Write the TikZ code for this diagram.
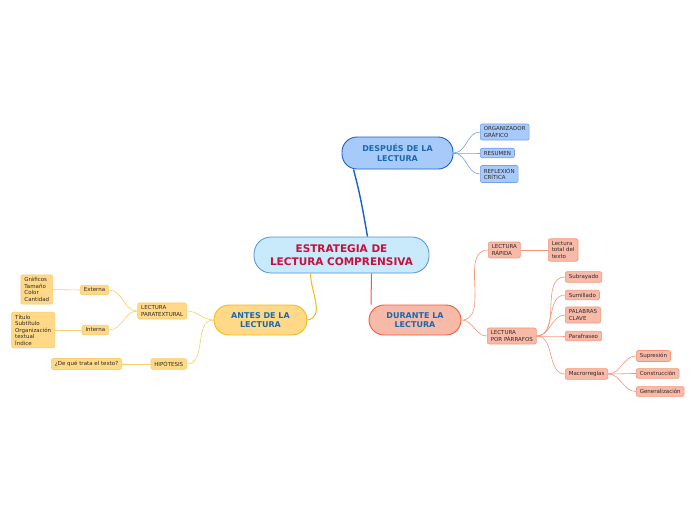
\documentclass[tikz,border=0pt]{standalone}
\usepackage{fontspec}
\setmainfont{DejaVu Sans}

\definecolor{rootfill}{RGB}{200,234,251}
\definecolor{rootline}{RGB}{80,145,215}
\definecolor{roottext}{RGB}{200,16,60}
\definecolor{titleblue}{RGB}{25,105,175}
\definecolor{kidtext}{RGB}{45,40,40}
\definecolor{bluefill}{RGB}{168,202,250}
\definecolor{blueline}{RGB}{25,95,200}
\definecolor{bluekid}{RGB}{115,160,240}
\definecolor{redfill}{RGB}{248,186,168}
\definecolor{redline}{RGB}{240,90,55}
\definecolor{redkid}{RGB}{245,150,120}
\definecolor{yelfill}{RGB}{255,217,135}
\definecolor{yelline}{RGB}{245,185,20}
\definecolor{yelkid}{RGB}{250,205,110}

\tikzset{
  topic/.style={draw, line width=0.9pt, rounded corners=15pt, align=center,
    font=\bfseries\fontsize{8}{9.5}\selectfont, text=titleblue, inner sep=0pt},
  kid/.style={draw, line width=0.6pt, rounded corners=2pt, align=left,
    font=\fontsize{5.5}{6.5}\selectfont, text=kidtext, inner xsep=3.5pt, inner ysep=2.7pt},
  bluekidbox/.style={kid, fill=bluefill, draw=bluekid},
  redkidbox/.style={kid, fill=redfill, draw=redkid},
  yelkidbox/.style={kid, fill=yelfill, draw=yelkid},
  bluelink/.style={draw=bluekid, line width=0.6pt},
  redlink/.style={draw=redkid, line width=0.6pt},
  yellink/.style={draw=yelkid, line width=0.6pt},
}

\begin{document}
\begin{tikzpicture}[x=1pt,y=-1pt]
  \useasboundingbox (0,0) rectangle (696,520);

  % centro
  \node[draw=rootline, fill=rootfill, line width=0.8pt, rounded corners=17pt, align=center,
    minimum width=175pt, minimum height=36pt, inner sep=0pt, text=roottext,
    font=\bfseries\fontsize{10.5}{12.5}\selectfont] (root) at (341.5,255)
    {ESTRATEGIA DE\\LECTURA COMPRENSIVA};

  % ramas principales
  \node[topic, fill=bluefill, draw=blueline, minimum width=111pt, minimum height=32pt] (after) at (397.5,153) {DESPUÉS DE LA\\LECTURA};
  \node[topic, fill=redfill, draw=redline, minimum width=92pt, minimum height=30pt] (during) at (415,320) {DURANTE LA\\LECTURA};
  \node[topic, fill=yelfill, draw=yelline, minimum width=93pt, minimum height=30pt] (before) at (260.5,320) {ANTES DE LA\\LECTURA};

  \draw[blueline, line width=1.4pt] ([xshift=26pt]root.north) to[out=100,in=-75] ([xshift=-44pt]after.south);
  \draw[redline, line width=1pt] ([xshift=30pt]root.south) to[out=-90,in=90] ([xshift=-44pt]during.north);
  \draw[yelline, line width=1pt] ([xshift=-31pt]root.south) to[out=-90,in=10] (before.east);

  % despues
  \node[bluekidbox, anchor=west] (org) at (480,132) {ORGANIZADOR\\GRÁFICO};
  \node[bluekidbox, anchor=west] (res) at (480,153) {RESUMEN};
  \node[bluekidbox, anchor=west] (refl) at (480,174) {REFLEXIÓN\\CRÍTICA};
  \foreach \k in {org,res,refl}
    \draw[bluelink] (after.east) to[out=0,in=180] (\k.west);

  % durante
  \node[redkidbox, anchor=west] (rap) at (488,250) {LECTURA\\RÁPIDA};
  \node[redkidbox, anchor=west] (tot) at (548,250) {Lectura\\total del\\texto};
  \node[redkidbox, anchor=west] (par) at (487,336) {LECTURA\\POR PÁRRAFOS};
  \node[redkidbox, anchor=west] (sub) at (565,277) {Subrayado};
  \node[redkidbox, anchor=west] (sum) at (565,295) {Sumillado};
  \node[redkidbox, anchor=west] (pal) at (565,315) {PALABRAS\\CLAVE};
  \node[redkidbox, anchor=west] (para) at (565,336) {Parafraseo};
  \node[redkidbox, anchor=west] (mac) at (565,374) {Macrorreglas};
  \node[redkidbox, anchor=west] (sup) at (636,356) {Supresión};
  \node[redkidbox, anchor=west] (con) at (636,373.5) {Construcción};
  \node[redkidbox, anchor=west] (gen) at (636,391.5) {Generalización};

  \draw[redlink] (during.east) to[out=0,in=180] (rap.west);
  \draw[redlink] (during.east) to[out=0,in=180] (par.west);
  \draw[redlink] (rap.east) -- (tot.west);
  \foreach \k in {sub,sum,pal,para,mac}
    \draw[redlink] (par.east) to[out=0,in=180] (\k.west);
  \foreach \k in {sup,con,gen}
    \draw[redlink] (mac.east) to[out=0,in=180] (\k.west);

  % antes
  \node[yelkidbox, anchor=east] (parat) at (187,311) {LECTURA\\PARATEXTURAL};
  \node[yelkidbox, anchor=east] (hip) at (187,364) {HIPÓTESIS};
  \node[yelkidbox, anchor=east] (ext) at (109,290) {Externa};
  \node[yelkidbox, anchor=east] (inte) at (109,330) {Interna};
  \node[yelkidbox, anchor=east] (graf) at (53,289.5) {Gráficos\\Tamaño\\Color\\Cantidad};
  \node[yelkidbox, anchor=east] (tit) at (55,330) {Título\\Subtítulo\\Organización\\textual\\Índice};
  \node[yelkidbox, anchor=east] (que) at (122,364) {¿De qué trata el texto?};

  \draw[yellink] (before.west) to[out=180,in=0] (parat.east);
  \draw[yellink] (before.west) to[out=180,in=0] (hip.east);
  \draw[yellink] (parat.west) to[out=180,in=0] (ext.east);
  \draw[yellink] (parat.west) to[out=180,in=0] (inte.east);
  \draw[yellink] (ext.west) -- (graf.east);
  \draw[yellink] (inte.west) -- (tit.east);
  \draw[yellink] (hip.west) -- (que.east);
\end{tikzpicture}
\end{document}
